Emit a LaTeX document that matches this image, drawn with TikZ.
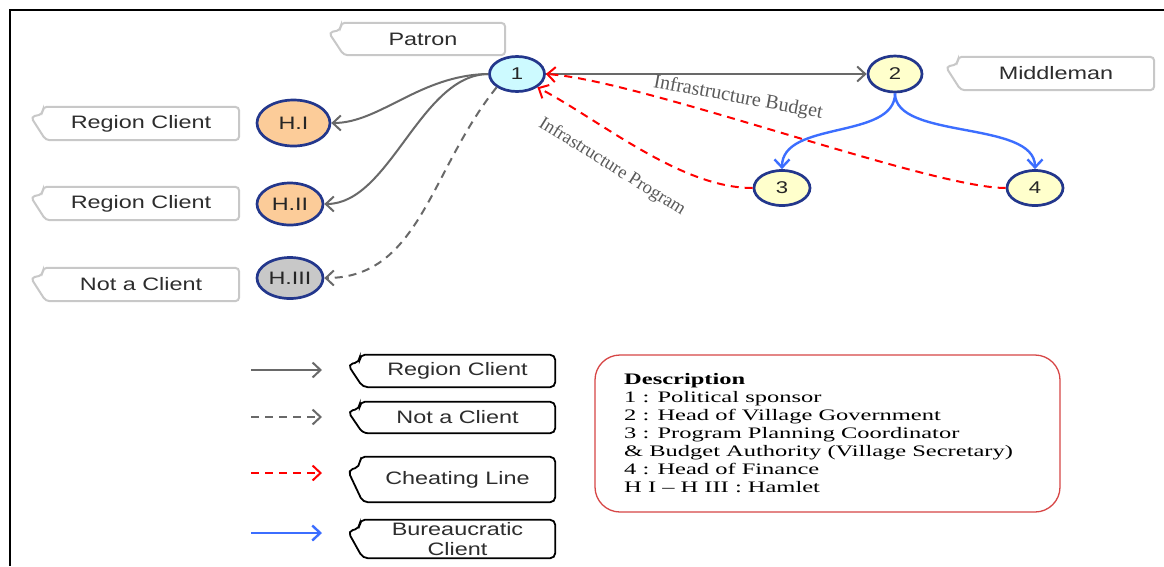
\documentclass[tikz,border=0pt]{standalone}
\usepackage{fontspec}
\setmainfont{Liberation Serif}
\newfontfamily\labelsans{Liberation Sans}
\usepackage{graphicx}
\usetikzlibrary{shapes.geometric,arrows.meta,calc}

\definecolor{edgegray}{RGB}{105,105,105}
\definecolor{cheatred}{RGB}{255,0,0}
\definecolor{bureaublue}{RGB}{60,110,255}
\definecolor{nodeborder}{RGB}{35,55,140}
\definecolor{patronfill}{RGB}{205,250,255}
\definecolor{hamletfill}{RGB}{252,204,153}
\definecolor{outfill}{RGB}{200,200,200}
\definecolor{officialfill}{RGB}{255,255,204}
\definecolor{tagframe}{RGB}{200,200,200}
\definecolor{tagtext}{RGB}{45,45,45}
\definecolor{descframe}{RGB}{215,70,70}
\definecolor{labelgray}{RGB}{90,90,90}

% horizontally widened text
\newcommand{\wide}[2][1.3]{\scalebox{#1}[1]{#2}}
% callout outline around a named node: pointer on the upper left side
\newcommand{\tagoutline}[2]{%
  \draw[#1] (#2.north west) -- (#2.north east) -- (#2.south east)
    -- ([xshift=3pt]#2.south west)
    -- ($(#2.north west)!0.3!(#2.south west)+(-12pt,0pt)$)
    -- ($(#2.north west)!0.22!(#2.south west)$) -- cycle;}

\tikzset{
  actor/.style={ellipse, draw=nodeborder, line width=2.7pt, inner sep=0pt,
    font=\labelsans\fontsize{17}{17}\selectfont, text=black!85},
  tag/.style={rectangle, inner sep=0pt, font=\labelsans\fontsize{18}{20}\selectfont,
    text=tagtext, minimum width=196pt, minimum height=33pt},
  tagline/.style={draw=tagframe, line width=2pt, rounded corners=4pt},
  keyline/.style={draw=black, line width=1.8pt, rounded corners=5pt},
  barb/.style={-{Straight Barb[length=8pt,width=15pt]}},
  client/.style={barb, draw=edgegray, line width=2pt},
  nonclient/.style={client, dash pattern=on 8pt off 6pt},
  cheat/.style={barb, draw=cheatred, line width=2pt, dash pattern=on 8pt off 6pt},
  bureau/.style={barb, draw=bureaublue, line width=2.4pt},
  edgelabel/.style={inner sep=0pt, text=labelgray},
}

\begin{document}
\begin{tikzpicture}[x=1pt,y=-1pt]
\useasboundingbox (0,0) rectangle (1164,566);
\fill[white] (0,0) rectangle (1164,566);
\draw[line width=2.5pt] (1164,10) -- (10,10) -- (10,566);

% actors
\node[actor, fill=patronfill, minimum width=55pt, minimum height=35pt] (n1) at (517,74) {\wide{1}};
\node[actor, fill=officialfill, minimum width=54pt, minimum height=36pt] (n2) at (895,74) {\wide{2}};
\node[actor, fill=officialfill, minimum width=56pt, minimum height=35pt] (n3) at (782,188) {\wide{3}};
\node[actor, fill=officialfill, minimum width=56pt, minimum height=35pt] (n4) at (1035,188) {\wide{4}};
\node[actor, fill=hamletfill, minimum width=73pt, minimum height=46pt, font=\labelsans\fontsize{18}{18}\selectfont] (h1) at (293.5,123) {\wide{H.I}};
\node[actor, fill=hamletfill, minimum width=66pt, minimum height=42pt, font=\labelsans\fontsize{18}{18}\selectfont] (h2) at (290,204) {\wide{H.II}};
\node[actor, fill=outfill, minimum width=66pt, minimum height=41pt, font=\labelsans\fontsize{18}{18}\selectfont] (h3) at (290,278) {\wide{H.III}};

% role callouts
\node[tag, minimum width=164pt, minimum height=32pt] (tpatron) at (423,39) {\wide{Patron}};
\tagoutline{tagline}{tpatron}
\node[tag] (tmiddle) at (1056,73.5) {\wide{Middleman}};
\tagoutline{tagline}{tmiddle}
\node[tag] (tregion1) at (141,123.5) {\wide{Region Client}};
\tagoutline{tagline}{tregion1}
\node[tag] (tregion2) at (141,203.5) {\wide{Region Client}};
\tagoutline{tagline}{tregion2}
\node[tag] (tnot) at (141,284.5) {\wide{Not a Client}};
\tagoutline{tagline}{tnot}

% relations
\draw[client] (n1.west) .. controls (420,75) and (380,123) .. (h1.east);
\draw[client] (n1.west) .. controls (420,75) and (390,204) .. (h2.east);
\draw[nonclient] (n1.south west) .. controls (430,170) and (420,278) .. (h3.east);
\draw[client] (n1.east) -- (n2.west);
\draw[cheat] (n4.west) .. controls (930,188) and (640,80) .. (n1.east);
\draw[cheat] (n3.west) .. controls (680,188) and (600,120) .. (n1.south east);
\draw[bureau] (n2.south) .. controls (895,140) and (782,120) .. (n3.north);
\draw[bureau] (n2.south) .. controls (895,140) and (1035,120) .. (n4.north);

\node[edgelabel, rotate=-10.5, font=\fontsize{20}{20}\selectfont] (lbudget) at (738,98) {Infrastructure Budget};
\node[edgelabel, rotate=-32, font=\fontsize{18.5}{18.5}\selectfont] (lprogram) at (612,167) {Infrastructure Program};

% legend
\coordinate (k1a) at (251,370); \coordinate (k1b) at (322,370);
\coordinate (k2a) at (251,417); \coordinate (k2b) at (322,417);
\coordinate (k3a) at (251,473); \coordinate (k3b) at (322,473);
\coordinate (k4a) at (251,533); \coordinate (k4b) at (322,533);
\draw[client] (k1a) -- (k1b);
\draw[nonclient] (k2a) -- (k2b);
\draw[cheat] (k3a) -- (k3b);
\draw[bureau] (k4a) -- (k4b);

\node[tag, minimum width=195pt, minimum height=32pt] (key1) at (457.5,371) {\wide{Region Client}};
\tagoutline{keyline}{key1}
\node[tag, minimum width=195pt, minimum height=31pt] (key2) at (457.5,417.5) {\wide{Not a Client}};
\tagoutline{keyline}{key2}
\node[tag, minimum width=195pt, minimum height=45pt] (key3) at (457.5,479.5) {\wide{Cheating Line}};
\tagoutline{keyline}{key3}
\node[tag, minimum width=195pt, minimum height=38pt, align=center] (key4) at (457.5,539) {\wide{Bureaucratic}\\\wide{Client}};
\tagoutline{keyline}{key4}

% description panel
\node[draw=descframe, line width=1.3pt, rounded corners=25pt, minimum width=465pt,
  minimum height=157pt, inner sep=0pt] (desc) at (827.5,433.5) {};
\node[anchor=north west, inner sep=0pt] (desctext) at (624,371.4) {%
  \fontsize{16}{18}\selectfont
  \scalebox{1.53}[1]{\begin{tabular}{@{}l@{}}
  \textbf{Description}\\
  1 : Political sponsor\\
  2 : Head of Village Government\\
  3 : Program Planning Coordinator\\
  \& Budget Authority (Village Secretary)\\
  4 : Head of Finance\\
  H I -- H III : Hamlet
  \end{tabular}}};
\end{tikzpicture}
\end{document}
